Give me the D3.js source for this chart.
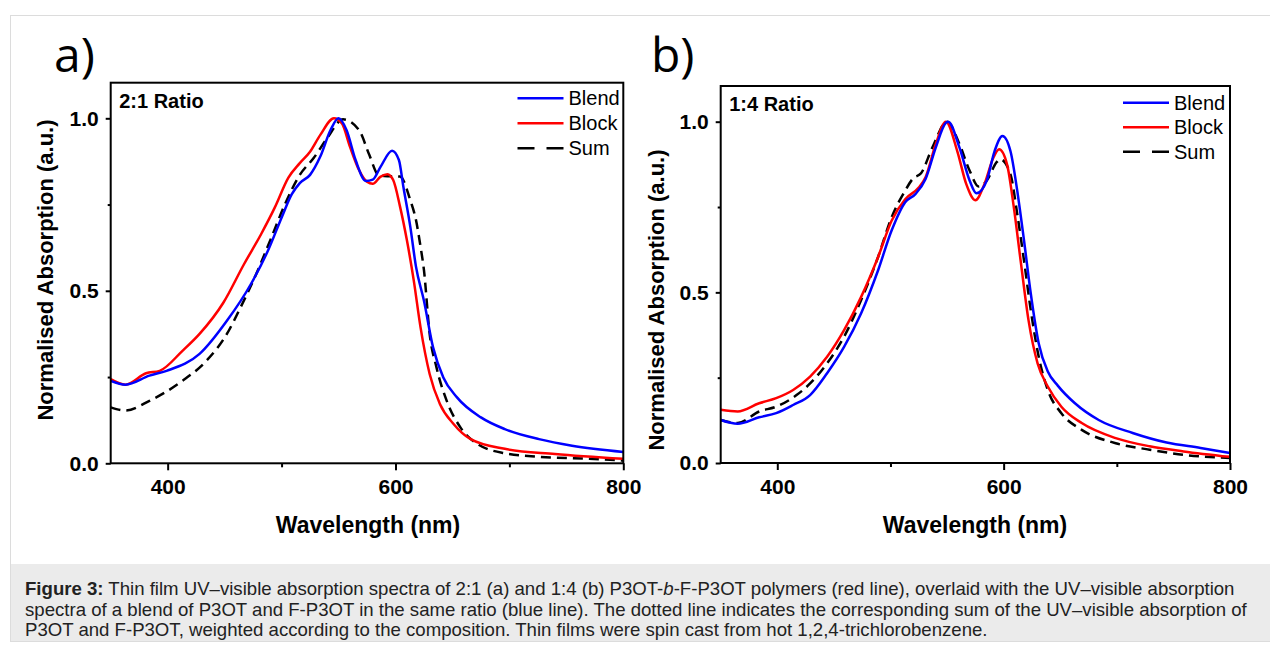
<!DOCTYPE html>
<html>
<head>
<meta charset="utf-8">
<script src="https://cdn.jsdelivr.net/npm/d3@7"></script>
<style>
  body { margin: 0; background: #fff; }
  svg { display: block; }
</style>
</head>
<body>
<svg id="fig" width="1270" height="648"></svg>
<script>
// [wavelength nm, normalised absorption]
const blendA = [[350,0.239],[363,0.228],[384,0.254],[399,0.268],[428,0.317],[452,0.413],[473,0.519],[488,0.616],[500,0.712],[509,0.78],[516,0.812],[525,0.836],[534,0.889],[543,0.966],[550,1.0],[557,0.966],[565,0.879],[574,0.818],[580,0.822],[587,0.86],[597,0.906],[603,0.879],[607,0.8],[613,0.686],[618,0.57],[625,0.471],[633,0.336],[642,0.249],[654,0.191],[675,0.133],[696,0.099],[726,0.07],[755,0.051],[800,0.033]];
const blockA = [[350,0.244],[363,0.228],[381,0.261],[393,0.268],[413,0.326],[428,0.375],[449,0.466],[467,0.577],[482,0.664],[494,0.741],[506,0.828],[516,0.87],[525,0.903],[534,0.952],[546,1.0],[553,0.985],[560,0.918],[568,0.85],[575,0.816],[580,0.81],[587,0.831],[593,0.838],[598,0.821],[604,0.744],[610,0.647],[616,0.531],[622,0.394],[630,0.259],[639,0.172],[651,0.114],[666,0.07],[696,0.042],[740,0.027],[800,0.013]];
const sumA = [[350,0.162],[363,0.153],[384,0.181],[413,0.239],[434,0.297],[452,0.375],[464,0.452],[479,0.558],[491,0.654],[503,0.751],[516,0.836],[528,0.884],[540,0.942],[554,0.997],[568,0.966],[577,0.894],[585,0.836],[590,0.833],[604,0.831],[613,0.763],[618,0.705],[622,0.628],[625,0.56],[630,0.375],[636,0.278],[645,0.181],[657,0.104],[672,0.056],[696,0.029],[726,0.019],[770,0.013],[800,0.008]];

const blendB = [[350,0.126],[365,0.115],[384,0.134],[399,0.146],[414,0.17],[429,0.199],[444,0.263],[459,0.34],[474,0.438],[489,0.564],[501,0.681],[513,0.764],[522,0.788],[531,0.832],[540,0.924],[549,0.997],[551,1.0],[561,0.924],[570,0.827],[576,0.79],[585,0.827],[592,0.914],[599,0.958],[606,0.914],[612,0.798],[618,0.652],[624,0.496],[631,0.35],[639,0.268],[648,0.226],[663,0.175],[684,0.126],[714,0.088],[744,0.06],[774,0.044],[800,0.029]];
const blockB = [[350,0.156],[365,0.151],[384,0.175],[399,0.19],[414,0.214],[429,0.253],[444,0.311],[459,0.389],[474,0.486],[489,0.603],[501,0.71],[513,0.773],[525,0.807],[531,0.837],[540,0.934],[549,1.0],[559,0.914],[567,0.817],[575,0.77],[583,0.817],[591,0.895],[596,0.919],[603,0.875],[609,0.749],[615,0.593],[622,0.418],[630,0.292],[639,0.224],[651,0.165],[669,0.117],[699,0.073],[729,0.049],[759,0.034],[800,0.018]];
const sumB = [[350,0.126],[365,0.117],[384,0.151],[399,0.165],[417,0.199],[429,0.233],[444,0.292],[459,0.37],[474,0.477],[489,0.603],[501,0.72],[513,0.798],[520,0.834],[527,0.849],[537,0.924],[550,1.0],[561,0.934],[570,0.856],[578,0.81],[585,0.827],[594,0.882],[597,0.89],[606,0.846],[612,0.73],[618,0.593],[624,0.447],[631,0.311],[639,0.214],[651,0.146],[669,0.097],[699,0.058],[729,0.039],[759,0.024],[800,0.015]];

const xTicks = [400, 600, 800];
const xMinor = [500, 700];
const yTicks = [0, 0.5, 1.0];
const yMinor = [0.25, 0.75];
const legendNames = ["Blend", "Block", "Sum"];

const svg = d3.select("#fig");
const bold = "'Liberation Sans', Arial, sans-serif";

// page frame and caption strip
svg.append("rect").attr("x", 10.5).attr("y", 15.5).attr("width", 1270).attr("height", 626)
  .attr("fill", "#fff").attr("stroke", "#dcdcdc");
svg.append("rect").attr("x", 11).attr("y", 564).attr("width", 1259).attr("height", 77)
  .attr("fill", "#ebebeb");

const caption = svg.append("text").attr("font-family", bold).attr("font-size", 18.6).attr("fill", "#222");
const line1 = caption.append("tspan").attr("x", 25).attr("y", 595);
line1.append("tspan").attr("font-weight", "bold").text("Figure 3:");
line1.append("tspan").text(" Thin film UV\u2013visible absorption spectra of 2:1 (a) and 1:4 (b) P3OT-");
line1.append("tspan").attr("font-style", "italic").text("b");
line1.append("tspan").text("-F-P3OT polymers (red line), overlaid with the UV\u2013visible absorption");
caption.append("tspan").attr("x", 25).attr("y", 615.5)
  .text("spectra of a blend of P3OT and F-P3OT in the same ratio (blue line). The dotted line indicates the corresponding sum of the UV\u2013visible absorption of");
caption.append("tspan").attr("x", 25).attr("y", 636)
  .text("P3OT and F-P3OT, weighted according to the composition. Thin films were spin cast from hot 1,2,4-trichlorobenzene.");

function drawPanel(opt) {
  const x = d3.scaleLinear().domain([350, 800]).range([opt.left, opt.right]);
  // 0 and 1.0 sit where they do in the picture
  const y = d3.scaleLinear()
    .domain([0, (opt.bottom - opt.top) / (opt.bottom - opt.one)])
    .range([opt.bottom, opt.top]);

  const g = svg.append("g");

  g.append("text").attr("x", opt.labelX).attr("y", 72)
    .attr("font-family", "'Open Sans', sans-serif").attr("font-size", 48)
    .text(opt.label);

  const line = d3.line().x(d => x(d[0])).y(d => y(d[1])).curve(d3.curveMonotoneX);
  const series = [
    { data: opt.sum, color: "#000", dash: "10,6" },
    { data: opt.block, color: "#ff0000", dash: null },
    { data: opt.blend, color: "#0000ff", dash: null }
  ];
  g.selectAll("path.series").data(series).enter().append("path")
    .attr("class", "series")
    .attr("d", d => line(d.data))
    .attr("fill", "none")
    .attr("stroke", d => d.color)
    .attr("stroke-width", 2.5)
    .attr("stroke-dasharray", d => d.dash);

  // frame
  g.append("rect").attr("x", opt.left).attr("y", opt.top)
    .attr("width", opt.right - opt.left).attr("height", opt.bottom - opt.top)
    .attr("fill", "none").attr("stroke", "#000").attr("stroke-width", 2);

  g.append("g").attr("transform", `translate(0,${opt.bottom})`)
    .call(d3.axisBottom(x).tickValues(xTicks).tickFormat(d3.format("d")).tickSize(7).tickPadding(9));
  g.append("g").attr("transform", `translate(0,${opt.bottom})`)
    .call(d3.axisBottom(x).tickValues(xMinor).tickFormat("").tickSize(4));
  g.append("g").attr("transform", `translate(${opt.left},0)`)
    .call(d3.axisLeft(y).tickValues(yTicks).tickFormat(d3.format(".1f")).tickSize(5).tickPadding(7));
  g.append("g").attr("transform", `translate(${opt.left},0)`)
    .call(d3.axisLeft(y).tickValues(yMinor).tickFormat("").tickSize(3));

  g.selectAll(".domain").remove();
  g.selectAll(".tick line").attr("stroke", "#000").attr("stroke-width", 2);
  g.selectAll(".tick text").attr("font-family", bold).attr("font-weight", "bold")
    .attr("font-size", 21).attr("fill", "#000");

  g.append("text").attr("x", opt.xTitleX).attr("y", 533).attr("text-anchor", "middle")
    .attr("font-family", bold).attr("font-weight", "bold").attr("font-size", 23)
    .text("Wavelength (nm)");
  g.append("text")
    .attr("transform", `translate(${opt.yTitleX},${opt.yTitleY}) rotate(-90)`)
    .attr("text-anchor", "middle")
    .attr("font-family", bold).attr("font-weight", "bold").attr("font-size", 22)
    .text("Normalised Absorption (a.u.)");

  g.append("text").attr("x", opt.left + 8.5).attr("y", opt.top + 25)
    .attr("font-family", bold).attr("font-weight", "bold").attr("font-size", 20)
    .text(opt.ratio);

  const leg = g.selectAll("g.leg").data(series.slice().reverse()).enter().append("g")
    .attr("class", "leg")
    .attr("transform", (d, i) => `translate(${opt.legX},${opt.legY + i * opt.legStep})`);
  leg.append("line").attr("x1", 0).attr("x2", 46)
    .attr("stroke", d => d.color).attr("stroke-width", 2.5)
    .attr("stroke-dasharray", d => d.dash ? "17,12" : null);
  leg.append("text").attr("x", 51).attr("y", 7)
    .attr("font-family", bold).attr("font-size", 20)
    .text((d, i) => legendNames[i]);
}

drawPanel({
  label: "a)", labelX: 54, left: 110.7, right: 623.3, top: 82.7, bottom: 463.3, one: 118.3,
  blend: blendA, block: blockA, sum: sumA, ratio: "2:1 Ratio",
  xTitleX: 368, yTitleX: 53, yTitleY: 270,
  legX: 517.5, legY: 98.3, legStep: 25
});
drawPanel({
  label: "b)", labelX: 651, left: 720.7, right: 1230, top: 86, bottom: 463, one: 121.7,
  blend: blendB, block: blockB, sum: sumB, ratio: "1:4 Ratio",
  xTitleX: 975, yTitleX: 664, yTitleY: 300,
  legX: 1123, legY: 102.7, legStep: 24.5
});
</script>
</body>
</html>
